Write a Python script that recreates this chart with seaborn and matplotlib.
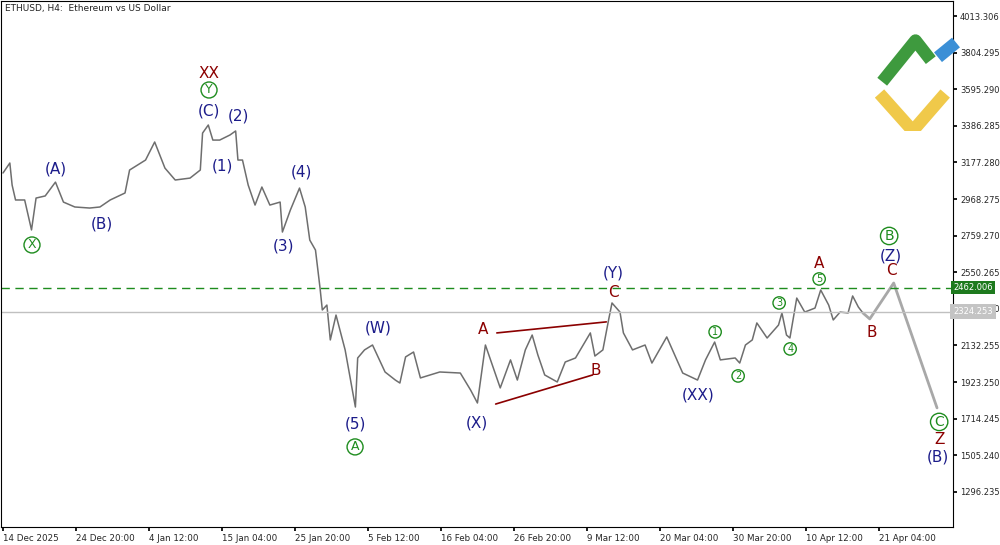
import matplotlib
matplotlib.use("Agg")
import matplotlib.pyplot as plt
import seaborn as sns
import pandas as pd

# price path, 4h bars counted from 14 Dec 2025 00:00
bars = [0, 6, 8, 11, 19, 25, 29, 37, 46, 53, 63, 76, 85, 94, 107, 111, 125, 133,
        142, 151, 164, 173, 175, 180, 184, 190, 199, 204, 206, 210, 215, 221, 227,
        234, 243, 245, 252, 260, 265, 269, 274, 278, 280, 284, 287, 292, 300, 309,
        311, 317, 324, 335, 344, 348, 353, 360, 366, 383, 401, 410, 416, 423, 436,
        445, 451, 458, 464, 469, 475, 486, 493, 502, 515, 519, 526, 531, 534, 541,
        544, 552, 563, 569, 582, 589, 596, 609, 616, 624, 629, 642, 646, 651, 657,
        661, 670, 680, 683, 687, 690, 696, 703, 712, 717, 724, 728, 734, 741, 745,
        750, 754]
prices = [3117, 3174, 3048, 2963, 2963, 2792, 2974, 2986, 3065, 2951, 2923, 2917,
          2923, 2963, 3003, 3134, 3191, 3294, 3145, 3077, 3088, 3134, 3345, 3391,
          3305, 3305, 3334, 3357, 3191, 3191, 3048, 2934, 3037, 2934, 2951, 2780,
          2906, 3031, 2923, 2734, 2677, 2460, 2335, 2363, 2164, 2306, 2107, 1781,
          2061, 2107, 2135, 1981, 1935, 1918, 2067, 2095, 1947, 1981, 1975, 1878,
          1804, 2135, 1890, 2050, 1935, 2107, 2192, 2078, 1964, 1924, 2038, 2061,
          2204, 2072, 2107, 2278, 2375, 2323, 2204, 2107, 2135, 2032, 2181, 2078,
          1975, 1935, 2050, 2152, 2050, 2061, 2032, 2135, 2164, 2261, 2175, 2249,
          2318, 2192, 2175, 2403, 2323, 2346, 2449, 2363, 2278, 2323, 2318, 2415,
          2352, 2318]

# forecast path
fc_bars = [754, 760, 781, 819]
fc_prices = [2318, 2284, 2489, 1776]

# triangle boundaries
upper_bars = [433, 529]
upper_prices = [2204, 2267]
lower_bars = [432, 517]
lower_prices = [1798, 1964]

level_green = 2462.006
level_last = 2324.253

ytick_labels = ["4013.306", "3804.295", "3595.290", "3386.285", "3177.280",
                "2968.275", "2759.270", "2550.265", "2341.260", "2132.255",
                "1923.250", "1714.245", "1505.240", "1296.235"]
xtick_labels = ["14 Dec 2025", "24 Dec 20:00", "4 Jan 12:00", "15 Jan 04:00",
                "25 Jan 20:00", "5 Feb 12:00", "16 Feb 04:00", "26 Feb 20:00",
                "9 Mar 12:00", "20 Mar 04:00", "30 Mar 20:00", "10 Apr 12:00",
                "21 Apr 04:00"]

NAVY = "#1c1c8a"
RED = "#8b0000"
GREEN = "#1e8c1e"

sns.set_theme(style="ticks")
plt.rcParams['font.family'] = ['DejaVu Sans']

fig = plt.figure(figsize=(10, 5.45), dpi=100)
ax = fig.add_axes([0.001, 1 - 527 / 545, 0.952, 526 / 545])

df = pd.DataFrame({"bar": bars, "price": prices})
sns.lineplot(data=df, x="bar", y="price", ax=ax, color="#6e6e6e", linewidth=1.1)
sns.lineplot(x=fc_bars, y=fc_prices, ax=ax, color="#a8a8a8", linewidth=2)
ax.plot(upper_bars, upper_prices, color=RED, linewidth=1.2)
ax.plot(lower_bars, lower_prices, color=RED, linewidth=1.2)

ax.axhline(level_green, color=GREEN, linestyle=(0, (6, 4)), linewidth=1)
ax.axhline(level_last, color="#c0c0c0", linewidth=1)

ax.set_xlim(-1.75, 833)
ax.set_ylim(1096, 4099)
ax.yaxis.tick_right()
ax.set_yticks([float(v) for v in ytick_labels])
ax.set_yticklabels(ytick_labels, fontsize=6)
ax.set_xticks([64 * i for i in range(len(xtick_labels))])
ax.set_xticklabels(xtick_labels, fontsize=6.3, ha="left")
ax.tick_params(axis="both", length=3, pad=2, color="black")
ax.set_xlabel("")
ax.set_ylabel("")
for sp in ax.spines.values():
    sp.set_color("black")
    sp.set_linewidth(0.8)

yt = ax.get_yaxis_transform()
ax.text(1.0, level_green, f"{level_green:.3f}", transform=yt, fontsize=6,
        color="white", va="center", ha="left", zorder=10, clip_on=False,
        bbox=dict(boxstyle="square,pad=0.25", fc="#1e7a1e", ec="none"))
ax.text(1.0, level_last, f"{level_last:.3f}", transform=yt, fontsize=6,
        color="white", va="center", ha="left", zorder=10, clip_on=False,
        bbox=dict(boxstyle="square,pad=0.35", fc="#c4c4c4", ec="none"))

ax.text(0.004, 0.995, "ETHUSD, H4:  Ethereum vs US Dollar", transform=ax.transAxes,
        fontsize=6.5, va="top", ha="left", color="#222222")


def px2x(px):
    return (px - 3) * 0.877


def px2y(py):
    return 4013.3 - (py - 16) * 5.708


labels = [
    (209, 74, "XX", RED, False, 11), (209, 90, "Y", GREEN, True, 9),
    (209, 111, "(C)", NAVY, False, 11), (238, 116, "(2)", NAVY, False, 11),
    (222, 166, "(1)", NAVY, False, 11), (56, 169, "(A)", NAVY, False, 11),
    (102, 224, "(B)", NAVY, False, 11), (32, 245, "X", GREEN, True, 9),
    (301, 172, "(4)", NAVY, False, 11), (283, 246, "(3)", NAVY, False, 11),
    (378, 328, "(W)", NAVY, False, 11), (355, 424, "(5)", NAVY, False, 11),
    (355, 447, "A", GREEN, True, 9), (483, 330, "A", RED, False, 11),
    (596, 371, "B", RED, False, 11), (477, 423, "(X)", NAVY, False, 11),
    (613, 273, "(Y)", NAVY, False, 11), (613, 293, "C", RED, False, 11),
    (715, 332, "1", GREEN, True, 7), (738, 376, "2", GREEN, True, 7),
    (779, 303, "3", GREEN, True, 7), (790, 349, "4", GREEN, True, 7),
    (698, 395, "(XX)", NAVY, False, 11), (819, 264, "A", RED, False, 11),
    (819, 279, "5", GREEN, True, 7), (889, 236, "B", GREEN, True, 10),
    (891, 256, "(Z)", NAVY, False, 11), (891, 271, "C", RED, False, 11),
    (872, 333, "B", RED, False, 11), (939, 422, "C", GREEN, True, 10),
    (939, 440, "Z", RED, False, 11), (938, 457, "(B)", NAVY, False, 11),
]
for x, y, t, c, circ, fs in labels:
    kw = {}
    if circ:
        kw["bbox"] = dict(boxstyle="circle,pad=0.12", fc="white", ec=GREEN, lw=1)
    ax.text(px2x(x), px2y(y), t, color=c, fontsize=fs, ha="center", va="center", **kw)

# logo
lg = fig.add_axes([0.875, 0.76, 0.09, 0.18])
lg.set_xlim(0, 1)
lg.set_ylim(0, 1)
lg.axis("off")
lg.plot([0.08, 0.45, 0.62], [0.5, 0.92, 0.72], color="#3e9a3e", lw=9,
        solid_capstyle="butt")
lg.plot([0.05, 0.42, 0.78], [0.38, 0.0, 0.38], color="#f0c94a", lw=9,
        solid_capstyle="butt")
lg.plot([0.7, 0.9], [0.75, 0.9], color="#3b8fd6", lw=9, solid_capstyle="butt")

fig.savefig("out.png", dpi=100)
